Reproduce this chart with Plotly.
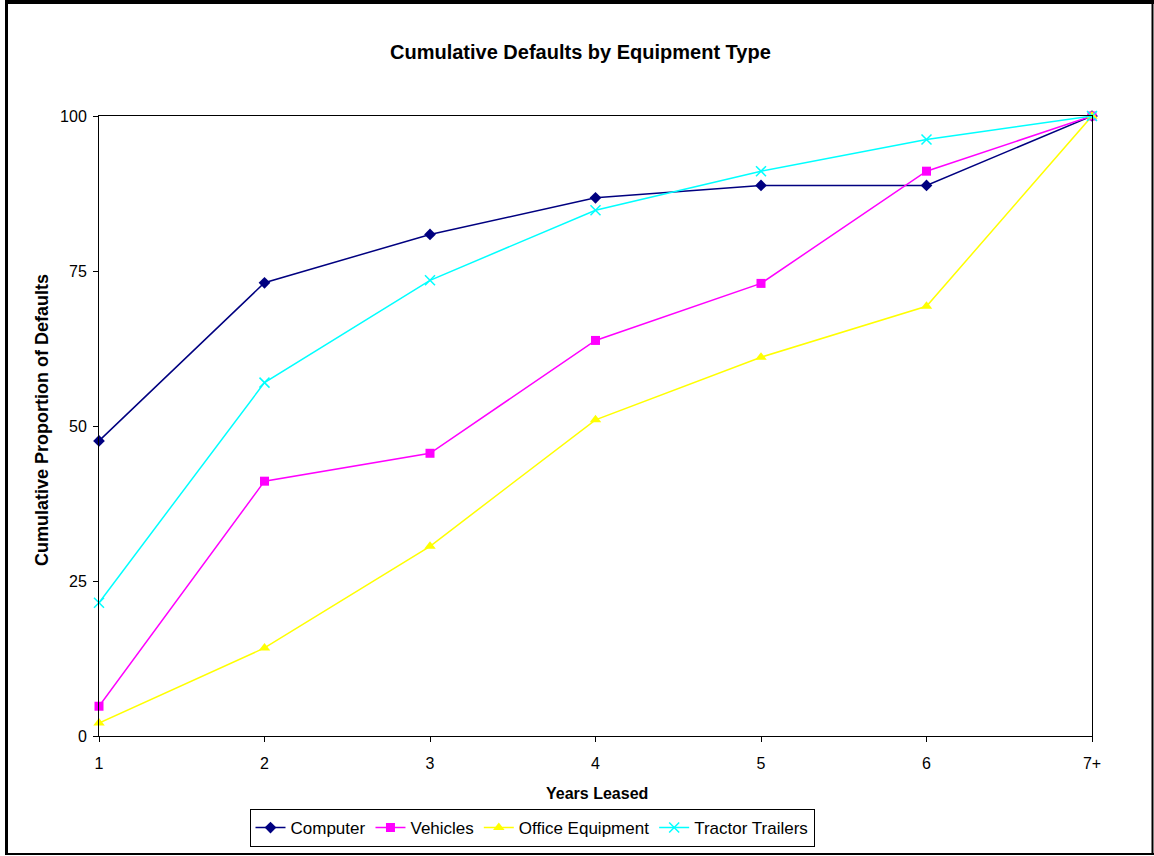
import plotly.graph_objects as go

# Years on lease (category labels)
years = ["1", "2", "3", "4", "5", "6", "7+"]

# Cumulative proportion of defaults (%) by equipment type
computer = [47.6, 73.1, 80.9, 86.8, 88.8, 88.8, 100]
vehicles = [4.8, 41.1, 45.6, 63.8, 73.0, 91.1, 100]
office_equipment = [2.1, 14.2, 30.6, 51.0, 61.1, 69.3, 100]
tractor_trailers = [21.5, 57.0, 73.5, 84.8, 91.1, 96.2, 100]

y_ticks = [0, 25, 50, 75, 100]

FONT = "Arial, 'Liberation Sans', sans-serif"
W, H = 1154, 856
L, R, T, B = 99, 1092, 116, 736  # plot area in pixels


def px_x(px):
    return (px - L) / (R - L)


def px_y(py):
    return (B - py) / (B - T)


series = [
    ("Computer", computer, "#000080", "diamond", 9),
    ("Vehicles", vehicles, "#FF00FF", "square", 9),
    ("Office Equipment", office_equipment, "#FFFF00", "triangle-up", 10),
    ("Tractor Trailers", tractor_trailers, "#00FFFF", "x-thin-open", 10),
]

fig = go.Figure()
for name, vals, color, symbol, size in series:
    marker = dict(symbol=symbol, size=size, color=color)
    if symbol.endswith("open"):
        marker["line"] = dict(color=color, width=1.5)
    fig.add_trace(go.Scatter(
        x=years, y=vals, name=name, mode="lines+markers",
        line=dict(color=color, width=1.5),
        marker=marker, cliponaxis=False,
    ))

fig.update_layout(
    width=W, height=H,
    margin=dict(l=L, r=W - R, t=T, b=H - B, pad=0, autoexpand=False),
    paper_bgcolor="white", plot_bgcolor="white",
    font=dict(family=FONT, size=16, color="black"),
    showlegend=True,
    legend=dict(
        orientation="h", x=px_x(532), y=px_y(809), xanchor="center", yanchor="top",
        bordercolor="black", borderwidth=1, bgcolor="white",
        font=dict(family=FONT, size=17), tracegroupgap=0, itemwidth=30,
    ),
    xaxis=dict(
        type="category", range=[0, len(years) - 1],
        showgrid=False, zeroline=False,
        showline=True, linecolor="black", linewidth=1, mirror=True,
        ticks="outside", ticklen=5, tickcolor="black", ticklabelstandoff=8,
        tickfont=dict(family=FONT, size=16), fixedrange=True,
    ),
    yaxis=dict(
        range=[0, 100], tickvals=y_ticks,
        showgrid=False, zeroline=False,
        showline=True, linecolor="black", linewidth=1, mirror=True,
        ticks="outside", ticklen=5, tickcolor="black", ticklabelstandoff=3,
        tickfont=dict(family=FONT, size=16), fixedrange=True,
    ),
    annotations=[
        dict(text="<b>Cumulative Defaults by Equipment Type</b>", xref="paper", yref="paper",
             x=px_x(580), y=px_y(52), xanchor="center", yanchor="middle", showarrow=False,
             font=dict(family=FONT, size=20)),
        dict(text="<b>Years Leased</b>", xref="paper", yref="paper",
             x=px_x(597), y=px_y(793), xanchor="center", yanchor="middle", showarrow=False,
             font=dict(family=FONT, size=16)),
        dict(text="<b>Cumulative Proportion of Defaults</b>", xref="paper", yref="paper",
             x=px_x(42), y=px_y(420), xanchor="center", yanchor="middle", showarrow=False,
             textangle=-90, font=dict(family=FONT, size=18)),
    ],
    shapes=[
        # outer frame around the chart
        dict(type="line", xref="paper", yref="paper", x0=px_x(6.5), x1=px_x(6.5),
             y0=px_y(0), y1=px_y(855), line=dict(color="black", width=3)),
        dict(type="line", xref="paper", yref="paper", x0=px_x(5), x1=px_x(1154),
             y0=px_y(2), y1=px_y(2), line=dict(color="black", width=4)),
        dict(type="line", xref="paper", yref="paper", x0=px_x(1152.5), x1=px_x(1152.5),
             y0=px_y(0), y1=px_y(855), line=dict(color="black", width=2)),
        dict(type="line", xref="paper", yref="paper", x0=px_x(5), x1=px_x(1154),
             y0=px_y(854), y1=px_y(854), line=dict(color="black", width=2)),
    ],
)

fig.write_html("out.html", config={"displayModeBar": False})
